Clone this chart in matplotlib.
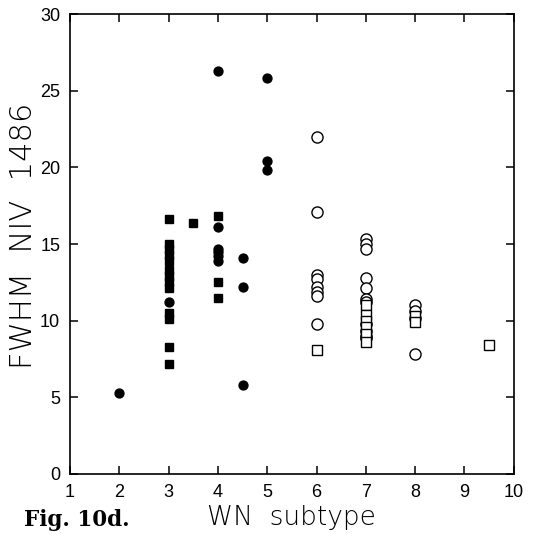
import matplotlib
matplotlib.use("Agg")
import matplotlib.pyplot as plt

# filled circles
fc_x = [2, 3, 4, 4, 4, 4, 4, 4, 4.5, 4.5, 4.5, 5, 5, 5]
fc_y = [5.3, 11.2, 26.3, 16.1, 14.7, 14.5, 14.2, 13.9, 14.1, 12.2, 5.8, 25.8, 20.4, 19.8]

# filled squares
fs_x = [3] * 13 + [3.5] + [4, 4, 4]
fs_y = [16.6, 15.0, 14.7, 14.3, 13.9, 13.3, 12.9, 12.5, 12.1, 10.5, 10.1, 8.3, 7.2,
        16.4, 16.8, 12.5, 11.5]

# open circles
oc_x = [6] * 8 + [7] * 11 + [8] * 4
oc_y = [22.0, 17.1, 13.0, 12.7, 12.2, 11.9, 11.6, 9.8,
        15.3, 15.0, 14.7, 12.8, 12.1, 11.4, 11.2, 9.8, 9.3, 9.0, 8.9,
        11.0, 10.6, 10.2, 7.8]

# open squares
os_x = [6] + [7] * 6 + [8, 8] + [9.5]
os_y = [8.1, 11.0, 10.4, 10.0, 9.6, 9.1, 8.6, 10.3, 9.9, 8.4]

plt.rcParams["font.family"] = ["Liberation Sans", "DejaVu Sans"]

fig = plt.figure(figsize=(5.42, 5.39), dpi=100)
ax = fig.add_axes([0.129, 0.1206, 0.819, 0.8534])

ax.plot(fc_x, fc_y, "o", color="black", ms=6.4, ls="none")
ax.plot(fs_x, fs_y, "s", color="black", ms=6.0, ls="none")
ax.plot(oc_x, oc_y, "o", mfc="white", mec="black", mew=1.0, ms=8, ls="none")
ax.plot(os_x, os_y, "s", mfc="white", mec="black", mew=1.0, ms=6.5, ls="none")

ax.set_xlim(1, 10)
ax.set_ylim(0, 30)
ax.set_xticks(range(1, 11))
ax.set_yticks(range(0, 31, 5))
ax.tick_params(direction="in", length=6, width=1.1, top=True, right=True,
               labelsize=13, pad=7)
for s in ax.spines.values():
    s.set_linewidth(1.2)

ax.set_xlabel("WN  subtype", fontsize=19, labelpad=3,
              family="DejaVu Sans", fontweight="light")
ax.set_ylabel("FWHM  NIV  1486", fontsize=22,
              family="DejaVu Sans", fontweight="light")
ax.yaxis.set_label_coords(-0.072, 0.517)

fig.text(0.045, 0.025, "Fig. 10d.", fontsize=15.5, fontweight="bold",
         family="DejaVu Serif")

fig.savefig("out.png", dpi=100)
